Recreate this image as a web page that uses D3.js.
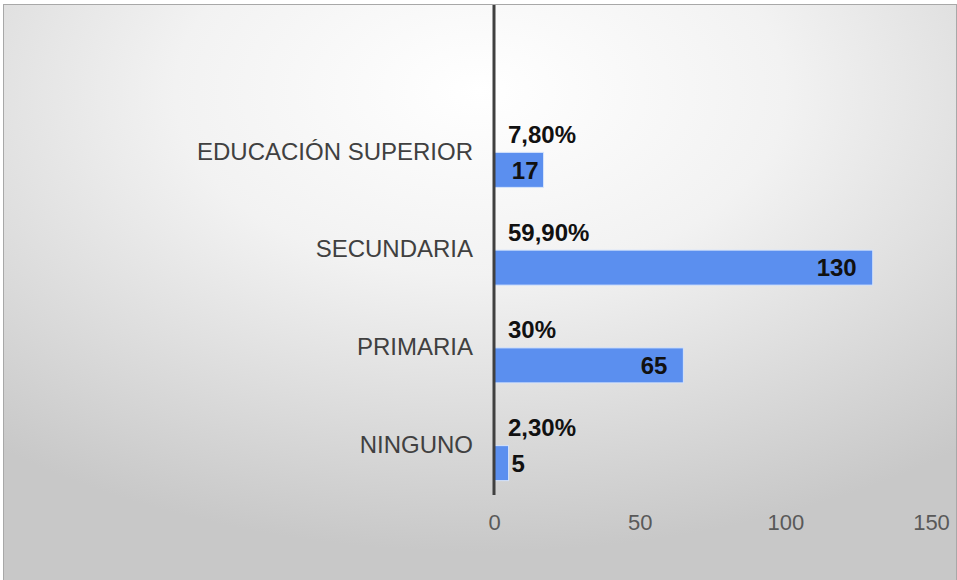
<!DOCTYPE html>
<html>

<head>
    <meta charset="utf-8">
    <title>Nivel de estudios</title>
    <script src="https://d3js.org/d3.v7.min.js"></script>
    <style>
        body { margin: 0; background: #fff; }
        text { font-family: "Liberation Sans", Arial, sans-serif; }
    </style>
</head>

<body>
    <script type="text/javascript">

        // chart data, top row first
        var categories = ["EDUCACIÓN SUPERIOR", "SECUNDARIA", "PRIMARIA", "NINGUNO"];
        var counts = [17, 130, 65, 5];
        var percents = ["7,80%", "59,90%", "30%", "2,30%"];
        var xTicks = [0, 50, 100, 150];

        var W = 957, H = 580;

        var svg = d3.select("body")
            .append("svg")
            .attr("width", W)
            .attr("height", H);

        // soft grey radial background like the slide
        var defs = svg.append("defs");
        var grad = defs.append("radialGradient")
            .attr("id", "bg")
            .attr("cx", "50%").attr("cy", "15%")
            .attr("r", "80%");
        grad.append("stop").attr("offset", "0%").attr("stop-color", "#ffffff");
        grad.append("stop").attr("offset", "40%").attr("stop-color", "#f2f2f2");
        grad.append("stop").attr("offset", "100%").attr("stop-color", "#c8c8c8");

        svg.append("rect")
            .attr("x", 3.5).attr("y", 4.5)
            .attr("width", W - 4).attr("height", H - 4)
            .attr("fill", "url(#bg)")
            .attr("stroke", "#a8a8a8")
            .attr("stroke-width", 1);

        //scales
        var xScale = d3.scaleLinear()
            .domain([0, 150])
            .range([494, 931]);

        var yScale = d3.scaleBand()
            .domain(categories)
            .range([102, 493])
            .padding(0);

        var step = yScale.bandwidth();
        var barH = 35;

        // bottom axis labels only (no line, no ticks)
        var xAxis = d3.axisBottom(xScale)
            .tickValues(xTicks)
            .tickSize(0)
            .tickPadding(0);

        var gx = svg.append("g")
            .attr("transform", "translate(0,514)")
            .call(xAxis);
        gx.select(".domain").remove();
        gx.selectAll("text")
            .attr("dy", "0.71em")
            .style("font-size", "22px")
            .style("font-family", "'Liberation Sans', Arial, sans-serif")
            .attr("fill", "#595959");

        // category labels
        svg.selectAll(".cat")
            .data(categories)
            .enter().append("text")
            .attr("class", "cat")
            .attr("x", 473)
            .attr("y", function (d) { return yScale(d) + step / 2; })
            .attr("dy", "0.36em")
            .attr("text-anchor", "end")
            .style("font-size", "24px")
            .attr("fill", "#404040")
            .text(function (d) { return d; });

        // bars
        svg.selectAll(".bar")
            .data(counts)
            .enter().append("rect")
            .attr("class", "bar")
            .attr("x", xScale(0))
            .attr("y", function (d, i) { return yScale(categories[i]) + step / 2 + 1.5; })
            .attr("width", function (d) { return xScale(d) - xScale(0); })
            .attr("height", barH)
            .attr("fill", "#5b8fef")
            .attr("stroke", "#d6e4fb")
            .attr("stroke-width", 1);

        // percentage labels above bars
        svg.selectAll(".pct")
            .data(percents)
            .enter().append("text")
            .attr("class", "pct")
            .attr("x", xScale(0) + 14)
            .attr("y", function (d, i) { return yScale(categories[i]) + step / 2 - 8; })
            .style("font-size", "24px")
            .style("font-weight", "bold")
            .attr("fill", "#111")
            .text(function (d) { return d; });

        // count labels, inside end when they fit
        svg.selectAll(".val")
            .data(counts)
            .enter().append("text")
            .attr("class", "val")
            .attr("y", function (d, i) { return yScale(categories[i]) + step / 2 + 1.5 + barH / 2; })
            .attr("dy", "0.36em")
            .style("font-size", "24px")
            .style("font-weight", "bold")
            .attr("fill", "#111")
            .each(function (d) {
                var w = xScale(d) - xScale(0);
                var t = d3.select(this);
                if (w > 70) {
                    t.attr("x", xScale(d) - 16).attr("text-anchor", "end");
                } else if (w > 30) {
                    t.attr("x", xScale(d) - 5).attr("text-anchor", "end");
                } else {
                    t.attr("x", xScale(d) + 3).attr("text-anchor", "start");
                }
            })
            .text(function (d) { return d; });

        // vertical axis line
        svg.append("line")
            .attr("x1", xScale(0)).attr("x2", xScale(0))
            .attr("y1", 5).attr("y2", 495)
            .attr("stroke", "#404040")
            .attr("stroke-width", 3);

    </script>
</body>

</html>
